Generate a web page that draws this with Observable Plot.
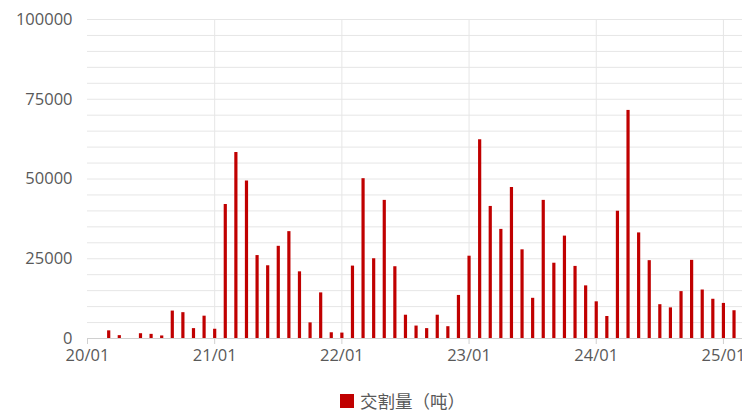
<!DOCTYPE html>
<html><head><meta charset="utf-8">
<script src="https://cdn.jsdelivr.net/npm/d3@7"></script>
<script src="https://cdn.jsdelivr.net/npm/@observablehq/plot@0.6"></script>
<style>
body{margin:0;background:#fff;font-family:"Open Sans","Noto Sans CJK SC",sans-serif;}
#wrap{position:relative;width:742px;height:413px;overflow:hidden;background:#fff;}
#legend{position:absolute;left:340px;top:390px;display:flex;align-items:center;font-size:17.5px;color:#595959;font-family:"Noto Sans CJK SC",sans-serif;line-height:22px;}
#legend .sw{width:14px;height:14px;background:#c00000;margin-right:6px;display:inline-block;}
</style></head><body>
<div id="wrap"><div id="chart"></div><div id="legend"><span class="sw"></span><span id="lt"></span></div></div>
<script>
const months = [
 "20/01","20/02","20/03","20/04","20/05","20/06","20/07","20/08","20/09","20/10","20/11","20/12",
 "21/01","21/02","21/03","21/04","21/05","21/06","21/07","21/08","21/09","21/10","21/11","21/12",
 "22/01","22/02","22/03","22/04","22/05","22/06","22/07","22/08","22/09","22/10","22/11","22/12",
 "23/01","23/02","23/03","23/04","23/05","23/06","23/07","23/08","23/09","23/10","23/11","23/12",
 "24/01","24/02","24/03","24/04","24/05","24/06","24/07","24/08","24/09","24/10","24/11","24/12",
 "25/01","25/02"
];
const values = [
 null, null, 2400, 900, null, 1500, 1300, 800, 8600, 8100, 3100, 7000,
 2900, 42000, 58300, 49400, 26000, 22800, 28900, 33500, 20900, 4900, 14300, 1800,
 1700, 22700, 50100, 25000, 43300, 22500, 7300, 3900, 3100, 7300, 3700, 13500,
 25800, 62300, 41400, 34200, 47300, 27800, 12600, 43300, 23600, 32100, 22600, 16500,
 11500, 6900, 39900, 71500, 33100, 24400, 10600, 9600, 14700, 24500, 15200, 12300,
 11000, 8700
];
const seriesName = "交割量（吨）";
const yTicks = [0, 25000, 50000, 75000, 100000];
const yGrid = [0,5000,10000,15000,20000,25000,30000,35000,40000,45000,50000,55000,60000,65000,70000,75000,80000,85000,90000,95000,100000];
const yearTickIdx = [0, 12, 24, 36, 48, 60];

document.getElementById("lt").textContent = seriesName;
const data = months.map((m, i) => ({i, m, v: values[i]})).filter(d => d.v != null);

const chart = Plot.plot({
  width: 742, height: 375,
  marginLeft: 87, marginRight: 0, marginTop: 19, marginBottom: 37,
  style: {fontFamily: '"Open Sans","Noto Sans CJK SC",sans-serif', fontSize: "16.5px", color: "#595959", background: "#fff", overflow: "visible"},
  x: {type: "linear", domain: [0, 61.8]},
  y: {domain: [0, 100000]},
  marks: [
    Plot.gridY(yGrid, {stroke: "#e6e6e6", strokeOpacity: 1}),
    Plot.gridX(yearTickIdx.slice(1), {stroke: "#e6e6e6", strokeOpacity: 1}),
    Plot.ruleX(data, {x: "i", y1: 0, y2: "v", stroke: "#c00000", strokeWidth: 3.2}),
    Plot.ruleY([0], {stroke: "#d0d0d0"}),
    Plot.axisY(yTicks, {tickSize: 0, tickPadding: 15, tickFormat: d => String(d), fill: "#595959", label: null}),
    Plot.axisX(yearTickIdx, {tickSize: 6, tickPadding: 5, tickFormat: i => months[i], stroke: "#d0d0d0", fill: "#595959", label: null})
  ]
});
document.getElementById("chart").appendChild(chart);
</script>
</body></html>
